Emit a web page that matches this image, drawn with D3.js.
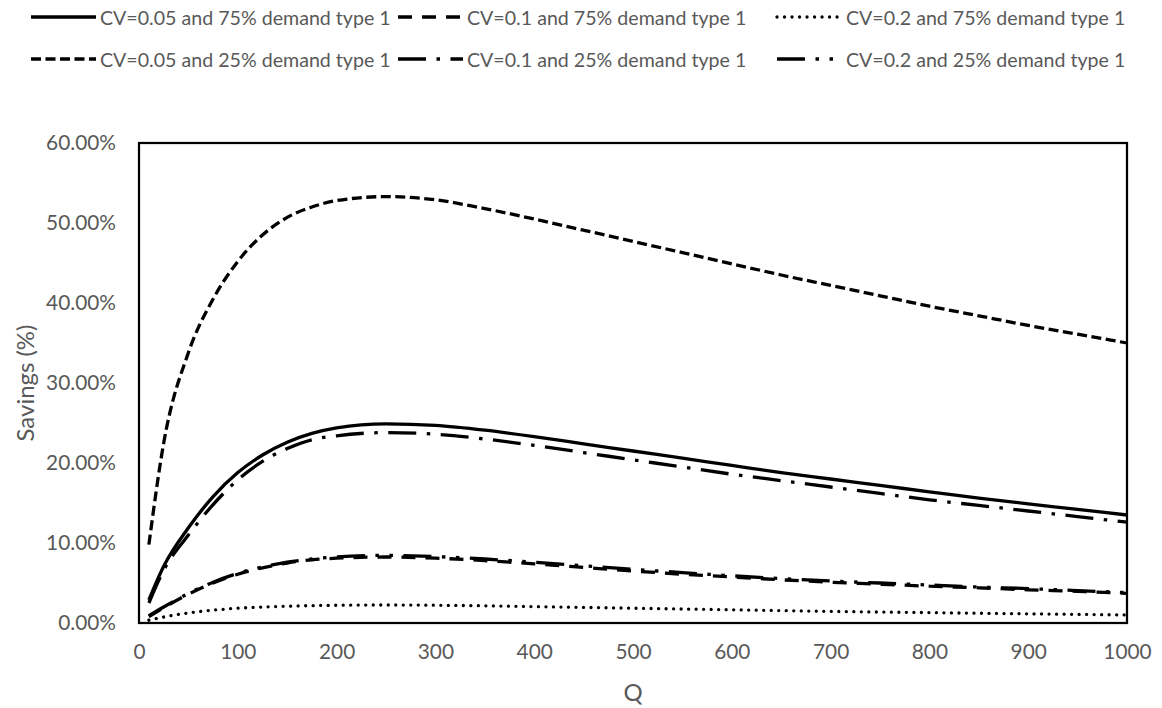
<!DOCTYPE html>
<html>
<head>
<meta charset="utf-8">
<script src="https://cdn.jsdelivr.net/npm/d3@7"></script>
<style>
  html, body { margin: 0; padding: 0; background: #fff; }
  svg { display: block; }
  text { font-family: Lato, "Open Sans", "DejaVu Sans", sans-serif; fill: #595959; }
</style>
</head>
<body>
<svg id="chart" width="1162" height="708"></svg>
<script>
// Order quantity Q on the x axis
const Q = [10, 25, 50, 75, 100, 125, 150, 175, 200, 250, 300, 350, 400, 450, 500,
           550, 600, 650, 700, 750, 800, 850, 900, 950, 1000];

// Savings (%) for each coefficient of variation / demand mix
const cv005_75 = [2.9, 7.1, 11.9, 15.8, 18.8, 21.0, 22.6, 23.7, 24.4, 24.9, 24.7, 24.1, 23.3,
                  22.4, 21.5, 20.6, 19.7, 18.8, 18.0, 17.2, 16.4, 15.6, 14.9, 14.2, 13.5];
const cv01_75  = [0.8, 1.9, 3.6, 5.0, 6.1, 6.9, 7.5, 7.9, 8.1, 8.25, 8.1, 7.8, 7.4,
                  6.95, 6.5, 6.1, 5.75, 5.4, 5.1, 4.85, 4.6, 4.4, 4.15, 3.95, 3.7];
const cv02_75  = [0.35, 0.75, 1.25, 1.6, 1.85, 2.0, 2.1, 2.17, 2.22, 2.25, 2.22, 2.15, 2.05,
                  1.95, 1.85, 1.75, 1.65, 1.55, 1.45, 1.37, 1.3, 1.22, 1.15, 1.08, 1.0];
const cv005_25 = [9.8, 22.5, 33.8, 40.5, 45.2, 48.5, 50.7, 52.0, 52.8, 53.3, 52.9, 51.8, 50.5,
                  49.1, 47.7, 46.3, 44.9, 43.5, 42.2, 40.9, 39.6, 38.4, 37.2, 36.1, 35.0];
const cv01_25  = [2.5, 6.6, 11.0, 14.8, 17.9, 20.2, 21.8, 22.9, 23.4, 23.8, 23.6, 23.0, 22.2,
                  21.3, 20.4, 19.5, 18.6, 17.8, 17.0, 16.2, 15.4, 14.7, 14.0, 13.3, 12.6];
const cv02_25  = [0.9, 2.0, 3.7, 5.1, 6.2, 7.0, 7.6, 8.0, 8.25, 8.45, 8.3, 8.0, 7.6,
                  7.15, 6.7, 6.3, 5.9, 5.55, 5.25, 5.0, 4.75, 4.5, 4.3, 4.05, 3.8];

const seriesNames = [
  "CV=0.05 and 75% demand type 1", "CV=0.1 and 75% demand type 1", "CV=0.2 and 75% demand type 1",
  "CV=0.05 and 25% demand type 1", "CV=0.1 and 25% demand type 1", "CV=0.2 and 25% demand type 1"
];
const seriesValues = [cv005_75, cv01_75, cv02_75, cv005_25, cv01_25, cv02_25];

const xTicks = [0, 100, 200, 300, 400, 500, 600, 700, 800, 900, 1000];
const yTicks = [0, 10, 20, 30, 40, 50, 60];

// Stroke patterns: solid, dash, round dot, short dash, long dash-dot, long dash-dot-dot
const LW = 3.3;
const styles = [
  { dash: null, cap: "butt" },
  { dash: "14,10", cap: "butt" },
  { dash: "0.01,7.5", cap: "round" },
  { dash: "10,4.5", cap: "butt" },
  { dash: "28,10.5,3.5,10.5", cap: "butt" },
  { dash: "28,10.5,3.5,10.5,3.5,10.5", cap: "butt" }
];

const svg = d3.select("#chart");
const plot = { left: 139, right: 1127, top: 143, bottom: 623 };

const x = d3.scaleLinear().domain([0, 1000]).range([plot.left, plot.right]);
const y = d3.scaleLinear().domain([0, 60]).range([plot.bottom, plot.top]);

// Size a text style so that a sample string spans a given width
function fitSize(sample, width) {
  const t = svg.append("text").attr("font-size", 20).text(sample);
  const w = t.node().getComputedTextLength();
  t.remove();
  return 20 * width / w;
}
const legendSize = fitSize(seriesNames[0], 291);
const tickSize = fitSize("50.00%", 70);
const titleSize = fitSize("Savings (%)", 117);

// Series
const line = d3.line()
  .x((d, i) => x(Q[i]))
  .y(d => y(d))
  .curve(d3.curveMonotoneX);

const lines = svg.append("g");
seriesValues.forEach((vals, k) => {
  lines.append("path")
    .datum(vals)
    .attr("d", line)
    .attr("fill", "none")
    .attr("stroke", "#000")
    .attr("stroke-width", LW)
    .attr("stroke-linecap", styles[k].cap)
    .attr("stroke-linejoin", "round")
    .attr("stroke-dasharray", styles[k].dash);
});

// Plot area border
svg.append("rect")
  .attr("x", plot.left).attr("y", plot.top)
  .attr("width", plot.right - plot.left).attr("height", plot.bottom - plot.top)
  .attr("fill", "none").attr("stroke", "#000").attr("stroke-width", 2.25);

// Axes
const yAxis = d3.axisLeft(y).tickValues(yTicks).tickSize(0).tickPadding(23)
  .tickFormat(d => d.toFixed(2) + "%");
const gy = svg.append("g").attr("transform", `translate(${plot.left},0)`).call(yAxis);
gy.select(".domain").remove();
gy.selectAll("text").attr("font-size", tickSize).attr("fill", "#595959")
  .attr("font-family", null);

const xAxis = d3.axisBottom(x).tickValues(xTicks).tickSize(0).tickPadding(21)
  .tickFormat(d3.format("d"));
const gx = svg.append("g").attr("transform", `translate(0,${plot.bottom})`).call(xAxis);
gx.select(".domain").remove();
gx.selectAll("text").attr("font-size", tickSize).attr("fill", "#595959")
  .attr("font-family", null);

// Axis titles
svg.append("text")
  .attr("transform", `translate(24,${(plot.top + plot.bottom) / 2}) rotate(-90)`)
  .attr("text-anchor", "middle").attr("dominant-baseline", "central")
  .attr("font-size", titleSize).text("Savings (%)");
svg.append("text")
  .attr("x", (plot.left + plot.right) / 2).attr("y", 691)
  .attr("text-anchor", "middle").attr("dominant-baseline", "central")
  .attr("font-size", titleSize).text("Q");

// Legend: two rows of three entries
const legendCols = [31, 398, 777];
const legendRows = [17, 59];
const sampleLen = 65;
seriesNames.forEach((name, k) => {
  const cx = legendCols[k % 3];
  const cy = legendRows[Math.floor(k / 3)];
  const g = svg.append("g");
  g.append("line")
    .attr("x1", cx).attr("x2", cx + sampleLen)
    .attr("y1", cy).attr("y2", cy)
    .attr("stroke", "#000").attr("stroke-width", LW)
    .attr("stroke-linecap", styles[k].cap)
    .attr("stroke-dasharray", styles[k].dash);
  g.append("text")
    .attr("x", cx + sampleLen + 4).attr("y", cy)
    .attr("dominant-baseline", "central")
    .attr("font-size", legendSize).text(name);
});
</script>
</body>
</html>
